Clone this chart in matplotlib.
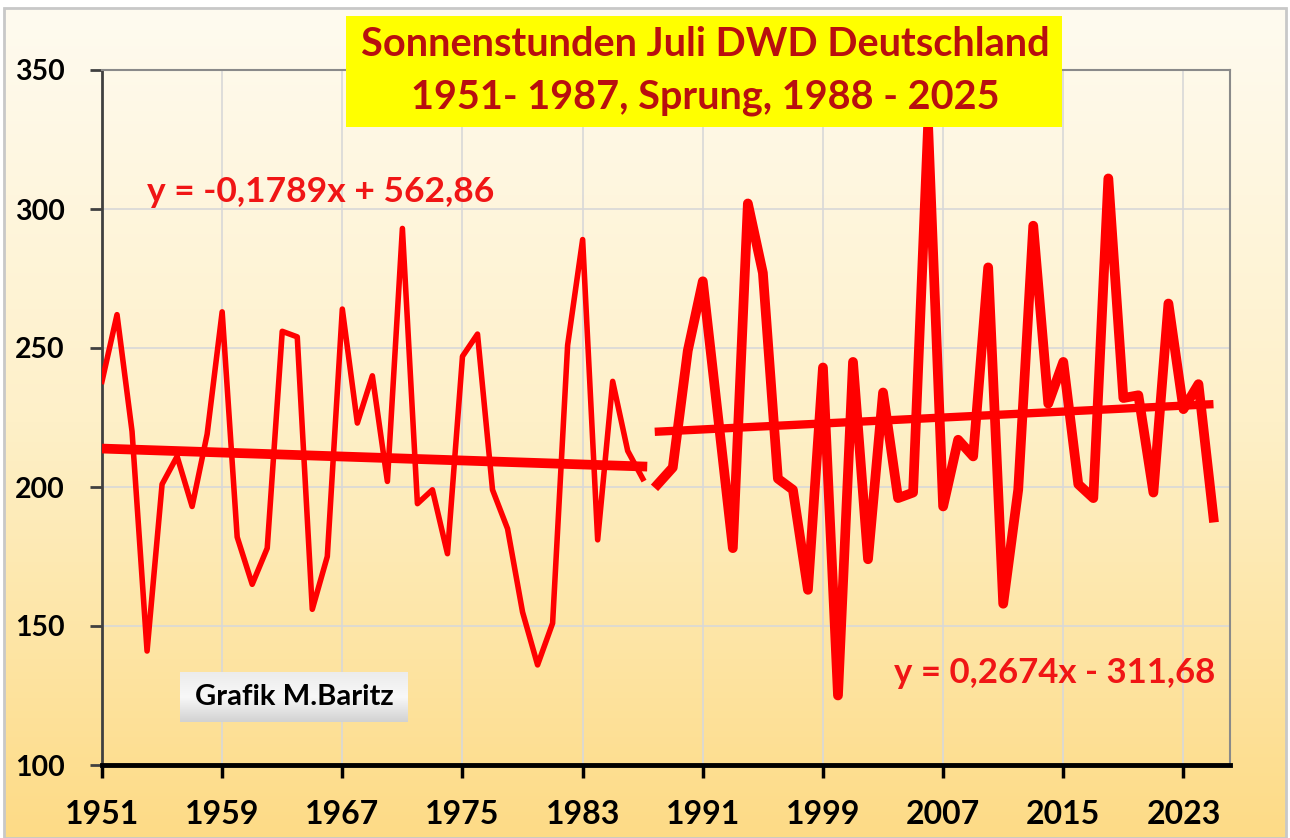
import numpy as np
import matplotlib.pyplot as plt
from matplotlib.colors import LinearSegmentedColormap
from matplotlib.patches import Rectangle

plt.rcParams['font.family'] = ['Lato', 'DejaVu Sans']
plt.rcParams['font.weight'] = 'bold'

# Sonnenstunden Juli, DWD Deutschland
years1 = list(range(1951, 1988))
sun1 = [238, 262, 220, 141, 201, 211, 193, 219, 263, 182,
        165, 178, 256, 254, 156, 175, 264, 223, 240, 202,
        293, 194, 199, 176, 247, 255, 199, 185, 155, 136,
        151, 251, 289, 181, 238, 213, 203]

years2 = list(range(1988, 2026))
sun2 = [201, 207, 249, 274, 226, 178, 302, 277, 203, 199,
        163, 243, 125, 245, 174, 234, 196, 198, 330, 193,
        217, 211, 279, 158, 199, 294, 230, 245, 201, 196,
        311, 232, 233, 198, 266, 228, 237, 189]

# Trendlinien laut Grafik
slope1, icpt1 = -0.1789, 562.86
slope2, icpt2 = 0.2674, -311.68

xticks = list(range(1951, 2026, 8))
yticks = [100, 150, 200, 250, 300, 350]

W, H = 1290, 838
fig = plt.figure(figsize=(W / 100, H / 100), dpi=100, facecolor='white')

# Hintergrund mit Verlauf
bg = fig.add_axes([4 / W, 0, (W - 8) / W, (H - 8) / H], zorder=0)
cmap = LinearSegmentedColormap.from_list('bg', ['#FFFBF0', '#FEF0C8', '#FDDB86'])
bg.imshow(np.linspace(0, 1, 256).reshape(-1, 1), aspect='auto', cmap=cmap,
          extent=[0, 1, 0, 1], origin='upper')
bg.set_axis_off()
fig.add_artist(Rectangle((4 / W, 0), (W - 8) / W, (H - 8) / H, transform=fig.transFigure,
                         fill=False, ec='#C8C8C8', lw=2, zorder=0.5))

ax = fig.add_axes([102 / W, (H - 765) / H, (1230 - 102) / W, 695 / H], zorder=1)
ax.patch.set_alpha(0)

# Daten
ax.plot(years1, sun1, color='#FF0000', lw=4, solid_joinstyle='round', zorder=3)
ax.plot(years2, sun2, color='#FF0000', lw=7, solid_joinstyle='round', zorder=3)

t1 = np.array([years1[0], years1[-1] + 0.3])
t2 = np.array([years2[0] - 0.2, years2[-1]])
ax.plot(t1, slope1 * t1 + icpt1, color='#FF0000', lw=7, solid_capstyle='butt', zorder=4)
ax.plot(t2, slope2 * t2 + icpt2, color='#FF0000', lw=6, solid_capstyle='butt', zorder=4)

ax.set_xlim(1951, 2026.1)
ax.set_ylim(100, 350)
ax.set_xticks(xticks)
ax.set_yticks(yticks)
ax.grid(True, color='#D8D8D8', lw=1.2)
ax.set_axisbelow(True)

ax.tick_params(axis='x', length=9, width=2.5, color='black', pad=16, labelsize=23)
ax.tick_params(axis='y', length=9, width=2, color='#404040', pad=18, labelsize=20.5)
for lab in ax.get_xticklabels() + ax.get_yticklabels():
    lab.set_fontweight('bold')

ax.spines['bottom'].set_linewidth(3.5)
ax.spines['bottom'].set_color('black')
ax.spines['left'].set_linewidth(2)
ax.spines['left'].set_color('#404040')
ax.spines['top'].set_color('#8A8A8A')
ax.spines['top'].set_linewidth(1.5)
ax.spines['right'].set_color('#8A8A8A')
ax.spines['right'].set_linewidth(1.5)

# Gleichungen
fig.text(147 / W, 1 - 192 / H, 'y = -0,1789x + 562,86', color='#F01515', fontsize=25.5,
         fontweight='bold', ha='left', va='center', zorder=6)
fig.text(1215 / W, 1 - 673 / H, 'y = 0,2674x - 311,68', color='#F01515', fontsize=25,
         fontweight='bold', ha='right', va='center', zorder=6)

# Titelbox
fig.add_artist(Rectangle((346 / W, 1 - 127 / H), (1062 - 346) / W, (127 - 16) / H,
                         transform=fig.transFigure, fc='#FFFF00', ec='none', zorder=5))
fig.text(705 / W, 1 - 45 / H, 'Sonnenstunden Juli DWD Deutschland', color='#B80F0F',
         fontsize=28.5, fontweight='bold', ha='center', va='center', zorder=6)
fig.text(705 / W, 1 - 97 / H, '1951- 1987, Sprung, 1988 - 2025', color='#B80F0F',
         fontsize=28.5, fontweight='bold', ha='center', va='center', zorder=6)

# Grafik M.Baritz Box
gx = fig.add_axes([180 / W, 1 - 722 / H, 228 / W, 50 / H], zorder=5)
gcm = LinearSegmentedColormap.from_list('g', ['#ECECEC', '#F8F8F8', '#D2D2D2'])
gx.imshow(np.linspace(0, 1, 64).reshape(-1, 1), aspect='auto', cmap=gcm,
          extent=[0, 1, 0, 1], origin='upper')
gx.set_axis_off()
gx.text(0.5, 0.5, 'Grafik M.Baritz', color='black', fontsize=21, fontweight='bold',
        ha='center', va='center', transform=gx.transAxes)

plt.savefig('out.png', dpi=100, facecolor=fig.get_facecolor())
